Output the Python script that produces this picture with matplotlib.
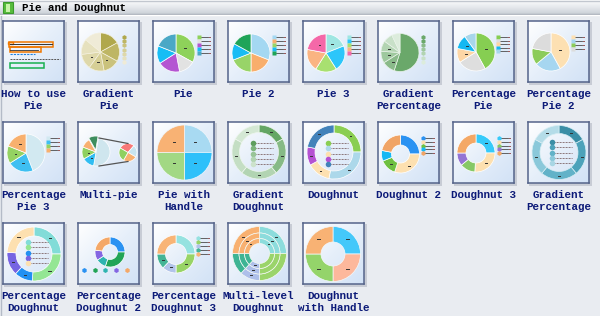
import numpy as np
import matplotlib.pyplot as plt
from matplotlib.patches import Rectangle
from matplotlib.colors import LinearSegmentedColormap

W, H = 600, 316
TILE = 61
COL_X0, COL_DX = 3, 75
ROW_Y0, ROW_DY = 21, 101

title = 'Pie and Doughnut'
labels = [
    'How to use\nPie', 'Gradient\nPie', 'Pie', 'Pie 2', 'Pie 3',
    'Gradient\nPercentage', 'Percentage\nPie', 'Percentage\nPie 2',
    'Percentage\nPie 3', 'Multi-pie', 'Pie with\nHandle', 'Gradient\nDoughnut',
    'Doughnut', 'Doughnut 2', 'Doughnut 3', 'Gradient\nPercentage',
    'Percentage\nDoughnut', 'Percentage\nDoughnut 2', 'Percentage\nDoughnut 3',
    'Multi-level\nDoughnut', 'Doughnut\nwith Handle',
]

# slice values / colours, clockwise from 12 o'clock
gradient_pie_vals = [17, 16, 14, 13, 13, 13, 14]
gradient_pie_cols = ['#b0a84c', '#beb664', '#cac27c', '#d6cf96', '#ded8aa', '#e6e1be', '#efebd7']
pie_vals = [33, 14, 19, 15, 19]
pie_cols = ['#8ed25a', '#e2e2e2', '#b455d2', '#17bdf5', '#4aa8c6']
pie2_vals = [31, 19, 19, 14, 17]
pie2_cols = ['#a4d8f2', '#f8ae6c', '#98d468', '#18bcf4', '#1fa458']
pie3_vals = [19, 22, 18, 19, 22]
pie3_cols = ['#9ee6e2', '#2cc6fa', '#a8e070', '#fab482', '#f468a8']
grad_perc_vals = [55, 11, 10, 9, 8, 7]
grad_perc_cols = ['#6aa86a', '#8aba8a', '#9ec89e', '#b2d4b2', '#c8e0c8', '#dcecdc']
perc_pie_vals = [42, 24, 12, 12, 10]
perc_pie_cols = ['#86ce52', '#dedede', '#fdd6a6', '#14b8f2', '#a8d6ea']
perc_pie2_vals = [42, 22, 14, 22]
perc_pie2_cols = ['#fde0b2', '#a6d6f0', '#8ccc5a', '#dcdcdc']
perc_pie3_vals = [44, 22, 15, 19]
perc_pie3_cols = ['#d2e9f1', '#3ebff2', '#94d262', '#f8b06e']
multi_big_vals = [50, 14, 14, 11, 11]
multi_big_cols = ['#cfe6ee', '#30bdf2', '#8ed060', '#f8b070', '#3e8e5e']
multi_small_vals = [28, 22, 25, 25]
multi_small_cols = ['#f87878', '#c8e4f0', '#f8b070', '#90d060']
handle_pie_vals = [25, 25, 25, 25]
handle_pie_cols = ['#a8daf2', '#2ec0fa', '#a2d884', '#f8b274']
grad_donut_vals = [17, 22, 22, 22, 17]
grad_donut_cols = ['#64a664', '#86ba86', '#b2d4b2', '#c4dec4', '#d4e8d4']
donut_vals = [25, 28, 14, 11, 22]
donut_cols = ['#8ace52', '#acd8ea', '#fde0b0', '#b452d2', '#4282ba']
donut2_vals = [25, 30, 14, 9, 22]
donut2_cols = ['#2a92f2', '#fde0b0', '#6ec040', '#16b8f4', '#f0a466']
donut3_vals = [25, 26, 13, 11, 25]
donut3_cols = ['#36cafa', '#fde0b0', '#86c866', '#9474d4', '#f4a866']
grad_perc2_vals = [17, 22, 22, 22, 17]
grad_perc2_cols = ['#3a8ea6', '#4ca2ba', '#62b2c8', '#8ac8da', '#b4dce8']
perc_donut_vals = [25, 26, 11, 14, 24]
perc_donut_cols = ['#82dcd8', '#94e694', '#2290f2', '#7664e2', '#fde0b0']
perc_donut2_vals = [25, 30, 11, 11, 23]
perc_donut2_cols = ['#2a92f2', '#22a456', '#2eb4b0', '#8466e2', '#f4a868']
perc_donut3_vals = [25, 25, 12, 13, 25]
perc_donut3_cols = ['#96e2e0', '#98d466', '#b2c4ea', '#44b496', '#f8b476']
multi_level_vals = [25, 25, 12, 13, 25]
multi_level_cols = ['#8cdcdc', '#9ad46a', '#aebfea', '#3eb494', '#f8b070']
handle_donut_vals = [25, 25, 25, 25]
handle_donut_cols = ['#44c8fa', '#fdb89c', '#94d46a', '#f8b274']

BG = '#e9ecf1'
TXT = '#0c1a78'
FONT = 'Liberation Mono'

fig = plt.figure(figsize=(W / 100, H / 100), dpi=100, facecolor=BG)
main = fig.add_axes([0, 0, 1, 1])
main.set_xlim(0, W)
main.set_ylim(H, 0)
main.axis('off')

# title bar
bar_cmap = LinearSegmentedColormap.from_list('bar', ['#fbfcfd', '#e6e9ed', '#cdd2d9'])
main.imshow(np.linspace(0, 1, 14).reshape(-1, 1), extent=(0, W, 14, 0), cmap=bar_cmap,
            aspect='auto', zorder=0)
main.plot([0, W], [0.5, 0.5], color='#c2c7cf', lw=1)
main.plot([0, W], [13.5, 13.5], color='#a3aab5', lw=1)
main.plot([0, W], [15, 15], color='#ffffff', lw=1)
main.plot([1, 1], [16, H], color='#b4bbc7', lw=1)
main.add_patch(Rectangle((3, 2), 10, 11, fc='#58bc3c', ec='#3c9a2c', lw=0.8, zorder=2))
main.add_patch(Rectangle((6, 3.5), 4, 8, fc='#c8f4a8', ec='none', zorder=3))
main.text(22, 11, title, family=FONT, fontsize=7.8, weight='bold', color='black', va='baseline')

tile_cmap = LinearSegmentedColormap.from_list('tile', ['#ffffff', '#e6effa', '#d2e2f6'])
grad = np.add.outer(np.linspace(0, 1, 61), np.linspace(0, 1, 61)) / 2


def tile(i):
    col, row = i % 8, i // 8
    x = COL_X0 + COL_DX * col
    y = ROW_Y0 + ROW_DY * row
    main.add_patch(Rectangle((x + 1, y + 1), TILE + 2, TILE + 2, fc='#c8ccd5', ec='none', zorder=1))
    cx = x + TILE / 2
    lines = labels[i].split('\n')
    for k, line in enumerate(lines):
        main.text(cx, y + 76 + 12 * k, line, family=FONT, fontsize=7.8, weight='bold',
                  color=TXT, ha='center', va='baseline')
    ax = fig.add_axes([x / W, 1 - (y + TILE) / H, TILE / W, TILE / H])
    ax.imshow(grad, extent=(0, TILE, 0, TILE), cmap=tile_cmap, origin='upper',
              interpolation='bilinear', zorder=0)
    return ax


def finish(ax):
    ax.set_xlim(0, TILE)
    ax.set_ylim(0, TILE)
    ax.set_aspect('auto')
    ax.set_frame_on(True)
    ax.set_xticks([])
    ax.set_yticks([])
    for s in ax.spines.values():
        s.set_color('#55648a')
        s.set_linewidth(1.1)


def pie(ax, vals, cols, ox, oy, r, width=None, start=90, explode=None, edge='white'):
    wp = dict(edgecolor=edge, linewidth=0.5)
    if width:
        wp['width'] = width
    wedges, _ = ax.pie(vals, colors=cols, center=(ox, TILE - oy), radius=r,
                       startangle=start, counterclock=False, wedgeprops=wp, explode=explode)
    return wedges


def marks(ax, wedges, frac, ln=1.6):
    for w in wedges:
        a = np.deg2rad((w.theta1 + w.theta2) / 2)
        cx, cy = w.center
        mx = cx + w.r * frac * np.cos(a)
        my = cy + w.r * frac * np.sin(a)
        ax.plot([mx - ln / 2, mx + ln / 2], [my, my], color='#333333', lw=0.7, zorder=5)


def side_legend(ax, cols, ox, oy, dy=4.0, marker='s', ms=3.0, line=True):
    for i, c in enumerate(cols):
        yy = TILE - (oy + i * dy)
        if line:
            ax.plot([ox + 2, ox + 9], [yy, yy], color='#4a4a4a', lw=0.6, zorder=5)
            ax.plot([ox + 9.6, ox + 10.6], [yy, yy], color='#8a3030', lw=0.6, zorder=5)
        ax.plot(ox, yy, marker=marker, ms=ms, color=c, mec='none', zorder=6)


def inner_legend(ax, cols, ox, oy, dy=5.3):
    for i, c in enumerate(cols):
        yy = TILE - (oy + i * dy)
        ax.plot([ox + 3, ox + 20], [yy, yy], color='#6a4a4a', lw=0.6, ls=(0, (1, 0.8)), zorder=5)
        ax.plot(ox, yy, marker='o', ms=4.0, color=c, mec='none', zorder=6)


# 1 How to use Pie
ax = tile(0)
ax.add_patch(Rectangle((6, TILE - 26), 44, 5, fc='none', ec='#f07800', lw=1.1))
ax.plot([7, 49], [TILE - 23, TILE - 23], color='#333333', lw=0.7)
ax.add_patch(Rectangle((5, TILE - 23), 5, 2.5, fc='none', ec='#f07800', lw=1.0))
ax.add_patch(Rectangle((7, TILE - 31), 31, 5, fc='none', ec='#f07800', lw=1.1))
ax.plot([7, 35], [TILE - 29, TILE - 29], color='#333333', lw=0.6)
ax.plot([7, 32], [TILE - 33, TILE - 33], color='#2080e0', lw=0.8, ls=(0, (2, 1)))
ax.plot([7, 57], [TILE - 38, TILE - 38], color='#555555', lw=0.7, ls=(0, (2, 1)))
ax.add_patch(Rectangle((7, TILE - 47), 34, 5, fc='none', ec='#18b050', lw=1.1))
finish(ax)

# 2 Gradient Pie
ax = tile(1)
w = pie(ax, gradient_pie_vals, gradient_pie_cols, 22.5, 31, 19, edge='#f4f0dc')
marks(ax, w[2:5], 0.55)
side_legend(ax, gradient_pie_cols, 46, 16, dy=4.2, marker='h', ms=3.4, line=False)
finish(ax)

# 3 Pie
ax = tile(2)
w = pie(ax, pie_vals, pie_cols, 23, 32, 19)
marks(ax, w[:1], 0.55)
side_legend(ax, pie_cols, 46, 16)
finish(ax)

# 4 Pie 2
ax = tile(3)
pie(ax, pie2_vals, pie2_cols, 23, 32, 19)
side_legend(ax, pie2_cols, 46, 16)
finish(ax)

# 5 Pie 3
ax = tile(4)
w = pie(ax, pie3_vals, pie3_cols, 23, 32, 19)
marks(ax, [w[0], w[4]], 0.55)
side_legend(ax, pie3_cols, 46, 16)
finish(ax)

# 6 Gradient Percentage
ax = tile(5)
w = pie(ax, grad_perc_vals, grad_perc_cols, 22, 31.5, 19, edge='#e8f2e8')
marks(ax, w[1:4], 0.6)
side_legend(ax, ['#6aa86a'] + grad_perc_cols, 45, 16, dy=4.1, marker='h', ms=3.4, line=False)
finish(ax)

# 7 Percentage Pie
ax = tile(6)
w = pie(ax, perc_pie_vals, perc_pie_cols, 23, 31, 19)
marks(ax, [w[0], w[2], w[3]], 0.55)
side_legend(ax, perc_pie_cols, 45, 16, dy=3.6)
finish(ax)

# 8 Percentage Pie 2
ax = tile(7)
w = pie(ax, perc_pie2_vals, perc_pie2_cols, 23, 31, 19)
marks(ax, w[:1], 0.5)
side_legend(ax, perc_pie2_cols, 45, 16, dy=4.0)
finish(ax)

# 9 Percentage Pie 3
ax = tile(8)
w = pie(ax, perc_pie3_vals, perc_pie3_cols, 23, 31, 19)
marks(ax, w[1:], 0.55)
side_legend(ax, perc_pie3_cols, 45, 16, dy=4.0)
finish(ax)

# 10 Multi-pie
ax = tile(9)
big_c, big_r = (18, TILE - 30), 14
small_c, small_r = (50, TILE - 30.5), 9
ax.plot([big_c[0] + 3, small_c[0]], [big_c[1] + big_r, small_c[1] + small_r], color='#555555', lw=0.9)
ax.plot([big_c[0] + 3, small_c[0]], [big_c[1] - big_r, small_c[1] - small_r], color='#555555', lw=0.9)
w = pie(ax, multi_big_vals, multi_big_cols, 18, 30, 14, start=80,
        explode=[0, 0, 0, 0, 2])
marks(ax, w[1:3], 0.55)
pie(ax, multi_small_vals, multi_small_cols, 50, 30.5, 9, start=150)
finish(ax)

# 11 Pie with Handle
ax = tile(10)
w = pie(ax, handle_pie_vals, handle_pie_cols, 31.5, 30.5, 27.5, edge='#f0f6fa')
marks(ax, w, 0.55, ln=2.4)
finish(ax)

# 12 Gradient Doughnut
ax = tile(11)
w = pie(ax, grad_donut_vals, grad_donut_cols, 31, 30, 27, width=7.5, edge='#eef6ee')
marks(ax, w, 0.86)
inner_legend(ax, ['#5e9e5e', '#7cb47c', '#98c498', '#b2d4b2', '#cce2cc'], 25, 21, dy=5.3)
finish(ax)

# 13 Doughnut
ax = tile(12)
w = pie(ax, donut_vals, donut_cols, 31, 30, 27, width=8)
marks(ax, w, 0.86)
inner_legend(ax, donut_cols, 25, 21, dy=5.3)
finish(ax)

# 14 Doughnut 2
ax = tile(13)
w = pie(ax, donut2_vals, donut2_cols, 22.5, 32, 19, width=10)
marks(ax, w[1:3], 0.75)
side_legend(ax, donut2_cols, 45, 16, dy=3.8, marker='h', ms=3.4)
finish(ax)

# 15 Doughnut 3
ax = tile(14)
w = pie(ax, donut3_vals, donut3_cols, 23, 31, 19, width=9)
marks(ax, w[:2], 0.75)
side_legend(ax, donut3_cols, 46, 16, dy=3.8, marker='h', ms=3.4)
finish(ax)

# 16 Gradient Percentage (doughnut)
ax = tile(15)
w = pie(ax, grad_perc2_vals, grad_perc2_cols, 31, 30.5, 27, width=8, edge='#d8eef4')
marks(ax, w, 0.86, ln=2.2)
inner_legend(ax, ['#3a8ea6', '#4ca2ba', '#62b2c8', '#8ac8da', '#a8d6e4'], 24, 20, dy=5.3)
finish(ax)

# 17 Percentage Doughnut
ax = tile(16)
w = pie(ax, perc_donut_vals, perc_donut_cols, 31, 31, 27, width=9)
marks(ax, w, 0.84, ln=2.2)
inner_legend(ax, perc_donut_cols, 25, 19, dy=5.3)
finish(ax)

# 18 Percentage Doughnut 2
ax = tile(17)
pie(ax, perc_donut2_vals, perc_donut2_cols, 32, 29, 15, width=7.5)
for k, c in enumerate(perc_donut2_cols):
    ax.plot(6 + 10.7 * k, TILE - 47, marker='h', ms=3.6, color=c, mec='none', zorder=6)
finish(ax)

# 19 Percentage Doughnut 3
ax = tile(18)
w = pie(ax, perc_donut3_vals, perc_donut3_cols, 23, 31, 19, width=8.5)
marks(ax, w[1:4], 0.75)
side_legend(ax, perc_donut3_cols, 45, 15, dy=4.0, marker='h', ms=3.4)
finish(ax)

# 20 Multi-level Doughnut
ax = tile(19)
for rad, wd in [(27, 6.5), (20.5, 5.5), (15, 5)]:
    w = pie(ax, multi_level_vals, multi_level_cols, 31.5, 30.5, rad, width=wd, edge='#f4f8f4')
    marks(ax, w[::2], 0.85, ln=1.8)
finish(ax)

# 21 Doughnut with Handle
ax = tile(20)
w = pie(ax, handle_donut_vals, handle_donut_cols, 30, 31, 27.5, width=15.5, edge='#f4f8fa')
marks(ax, w, 0.75, ln=2.4)
finish(ax)

fig.savefig('out.png', dpi=100, facecolor=BG)
